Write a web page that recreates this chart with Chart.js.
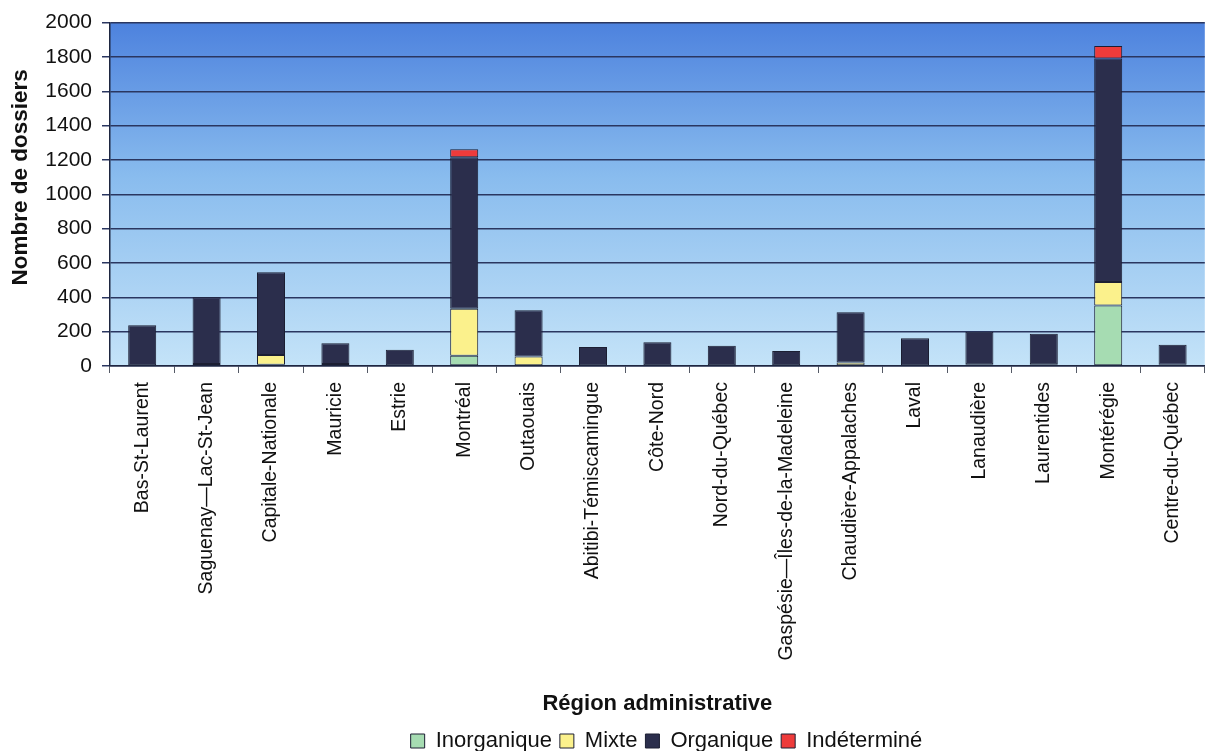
<!DOCTYPE html>
<html>
<head>
<meta charset="utf-8">
<script src="https://cdn.jsdelivr.net/npm/chart.js@4/dist/chart.umd.min.js"></script>
<style>
html,body{margin:0;padding:0;background:#ffffff;}
#wrap{width:1205px;height:751px;position:relative;}
</style>
</head>
<body>
<div id="wrap"><canvas id="c"></canvas></div>
<script>
const categories = [
  "Bas-St-Laurent", "Saguenay\u2014Lac-St-Jean", "Capitale-Nationale", "Mauricie", "Estrie",
  "Montréal", "Outaouais", "Abitibi-Témiscamingue", "Côte-Nord", "Nord-du-Québec",
  "Gaspésie\u2014Îles-de-la-Madeleine", "Chaudière-Appalaches", "Laval", "Lanaudière",
  "Laurentides", "Montérégie", "Centre-du-Québec"
];
const inorganique = [null, null, 8, null, null, 60, 5, null, null, null, null, 5, null, null, null, 352, null];
const mixte       = [null, 12, 56, 12, null, 274, 51, null, null, null, null, 15, null, 10, 10, 137, 8];
const organique   = [237, 388, 482, 121, 95, 882, 268, 111, 138, 118, 87, 293, 161, 190, 178, 1302, 116];
const indetermine = [null, null, null, null, null, 47, null, null, null, null, null, null, null, null, null, 73, null];
const seriesNames = ["Inorganique", "Mixte", "Organique", "Indéterminé"];
const yMin = 0, yMax = 2000, yStep = 200;
const yTitle = "Nombre de dossiers";
const xTitle = "Région administrative";

const FONT = "'Liberation Sans', Arial, Helvetica, sans-serif";
const CHART_BOTTOM = 366;
const Y_AXIS_WIDTH = 110;

const bgPlugin = {
  id: 'bgGradient',
  beforeDraw(chart) {
    const {ctx, chartArea: a} = chart;
    if (!a) return;
    const g = ctx.createLinearGradient(0, a.top, 0, a.bottom);
    g.addColorStop(0, '#4d82de');
    g.addColorStop(0.45, '#89bcee');
    g.addColorStop(1, '#c4e3f8');
    ctx.save();
    ctx.fillStyle = g;
    ctx.fillRect(a.left, a.top, a.right - a.left, a.bottom - a.top);
    ctx.restore();
    // shift the y-axis title up a little, as in the reference
    const ys = chart.scales.y;
    if (ys && !ys.__titlePatched) {
      const orig = ys.drawTitle.bind(ys);
      ys.drawTitle = function() {
        const c = this.ctx;
        c.save(); c.translate(0, -17); orig(); c.restore();
      };
      ys.__titlePatched = true;
    }
  }
};

const legendShift = {
  id: 'legendShift',
  afterLayout(chart) {
    const l = chart.legend;
    if (!l) return;
    const dx = 64, dy = 11;
    l.left += dx; l.right += dx; l.top += dy; l.bottom += dy;
    if (l.adjustHitBoxes) l.adjustHitBoxes();
  }
};

const border = '#1c1f33';
const colors = ['#a6dcb2', '#fbf18c', '#2b2e4c', '#ee3b3b'];
const seriesData = [inorganique, mixte, organique, indetermine];

new Chart(document.getElementById('c'), {
  type: 'bar',
  data: {
    labels: categories,
    datasets: seriesNames.map((name, i) => ({
      label: name,
      data: seriesData[i],
      backgroundColor: colors[i],
      borderColor: border,
      borderWidth: 1,
      borderSkipped: false,
      barPercentage: 0.435,
      categoryPercentage: 1.0
    }))
  },
  options: {
    responsive: true,
    maintainAspectRatio: false,
    animation: false,
    locale: 'en-US',
    layout: { padding: { top: 20, left: 0, right: 0, bottom: 0 } },
    plugins: {
      legend: {
        position: 'bottom',
        labels: {
          boxWidth: 14, boxHeight: 14, padding: 8,
          color: '#111',
          font: { family: FONT, size: 22 }
        }
      },
      tooltip: { enabled: false }
    },
    scales: {
      x: {
        stacked: true,
        grid: { display: true, drawOnChartArea: false, drawTicks: true, tickLength: 7, color: '#555a66', offset: true },
        border: { display: true, color: '#1e2640', width: 1.5 },
        ticks: {
          autoSkip: false, minRotation: 90, maxRotation: 90, padding: 9,
          color: '#111', font: { family: FONT, size: 19.5 }
        },
        title: {
          display: true, text: xTitle, color: '#111',
          font: { family: FONT, size: 22, weight: 'bold' },
          padding: { top: 0, bottom: -6 }
        },
        afterFit(s) {
          const lh = s.chart.legend ? s.chart.legend.height : 40;
          s.height = 751 - CHART_BOTTOM - lh;
        }
      },
      y: {
        stacked: true,
        min: yMin, max: yMax,
        grid: { color: '#2a3660', lineWidth: 1.5, tickLength: 8, drawTicks: true },
        border: { display: true, color: '#1e2640', width: 1.5 },
        ticks: {
          stepSize: yStep, padding: 10, color: '#111',
          font: { family: FONT, size: 21 },
          callback: (v) => String(v)
        },
        title: {
          display: true, text: yTitle, color: '#111',
          font: { family: FONT, size: 22.5, weight: 'bold' },
          padding: { top: 7, bottom: 0 }
        },
        afterFit(s) { s.width = Y_AXIS_WIDTH; }
      }
    }
  },
  plugins: [bgPlugin, legendShift]
});
</script>
</body>
</html>
